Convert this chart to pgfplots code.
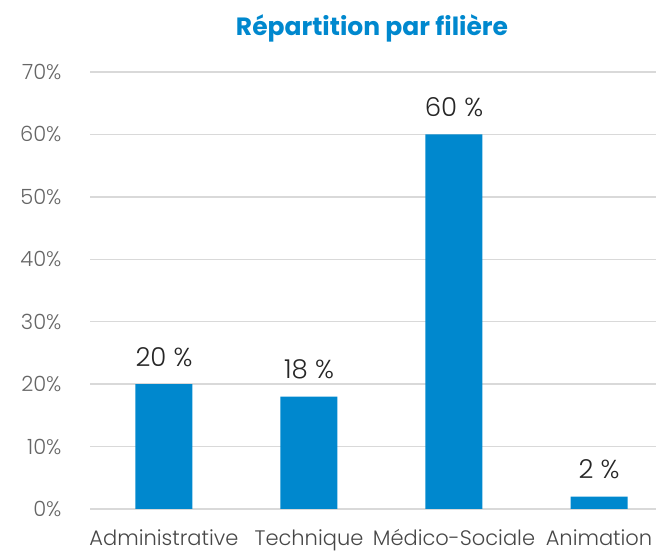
\documentclass[border=0pt]{standalone}
\usepackage{pgfplots}
\pgfplotsset{compat=1.18}
\usepackage{fontspec}
\setmainfont{Poppins}[UprightFont=* Light, BoldFont=* Bold]
\definecolor{barblue}{HTML}{0088CE}
\definecolor{gridgray}{HTML}{D9D9D9}
\definecolor{tickgray}{HTML}{666666}
\definecolor{labeldark}{HTML}{262626}
\begin{document}
\begin{tikzpicture}
\begin{axis}[
  at={(90pt,42pt)}, anchor=south west,
  scale only axis,
  width=566pt, height=437pt,
  xmin=-0.51, xmax=3.393,
  ymin=0, ymax=70,
  ytick={0,10,...,70},
  yticklabel={\pgfmathprintnumber{\tick}\%},
  xtick=data,
  xticklabels={Administrative,Technique,Médico-Sociale,Animation},
  axis x line*=bottom,
  axis y line*=left,
  x axis line style={gridgray, line width=1.5pt, -},
  y axis line style={draw=none},
  ymajorgrids,
  grid style={gridgray, line width=1.5pt},
  major tick length=0pt,
  /pgf/number format/assume math mode=true,
  tick label style={font=\fontsize{21}{25}\selectfont},
  yticklabel style={tickgray, xshift=-25pt},
  xticklabel style={color=labeldark!85, yshift=-17pt},
  ybar, bar width=57pt,
  nodes near coords={\pgfmathprintnumber{\pgfplotspointmeta}\ \%},
  nodes near coords style={font=\fontsize{26}{30}\selectfont, color=labeldark, yshift=14pt},
  clip=false,
]
\addplot[fill=barblue, draw=none] coordinates {(0,20) (1,18) (2,60) (3,2)};
\end{axis}
\node[font=\bfseries\fontsize{25}{29}\selectfont, color=barblue] at (372pt,523pt) {Répartition par filière};
\pgfresetboundingbox
\path[use as bounding box] (0,0) rectangle (656pt,551pt);
\end{tikzpicture}
\end{document}
